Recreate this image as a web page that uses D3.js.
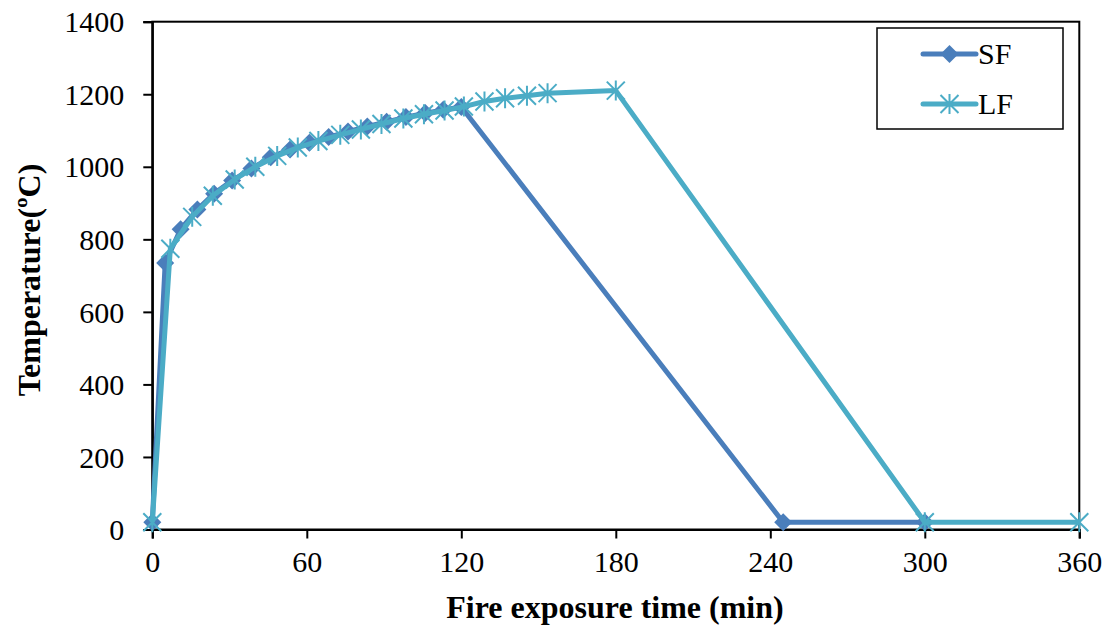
<!DOCTYPE html>
<html>
<head>
<meta charset="utf-8">
<script src="https://cdn.jsdelivr.net/npm/d3@7"></script>
<style>
  html, body { margin: 0; padding: 0; background: #fff; }
  svg { display: block; }
  text { font-family: "Liberation Serif", "Times New Roman", serif; fill: #000; }
</style>
</head>
<body>
<svg id="chart" width="1114" height="626"></svg>
<script>
// ---- data ----
const sfTime = [0, 5, 11, 17.5, 24, 31, 38.5, 46, 53.5, 61, 68.5, 76, 83.5, 91, 98.5, 106, 113, 120, 245, 300];
const sfTemp = [20, 735, 828, 882, 926, 962, 995, 1026, 1048, 1066, 1082, 1097, 1111, 1124, 1137, 1148, 1157, 1165, 20, 20];
const lfTime = [0, 7, 15.5, 23.5, 32, 40, 48.5, 56.5, 64.5, 73, 81, 89, 97.5, 105.5, 113.5, 121, 129, 137, 145.5, 153.5, 180, 300, 360];
const lfTemp = [20, 774, 862, 920, 965, 1000, 1030, 1053, 1071, 1088, 1103, 1118, 1133, 1145, 1155, 1166, 1180, 1189, 1196, 1203, 1210, 20, 20];
const seriesNames = ["SF", "LF"];
const xTicks = [0, 60, 120, 180, 240, 300, 360];
const yTicks = [0, 200, 400, 600, 800, 1000, 1200, 1400];
const xTitle = "Fire exposure time (min)";
const yTitle = "Temperature(ºC)";

// ---- layout ----
const svg = d3.select("#chart");
const L = 152.3, R = 1079.3, T = 21.7, B = 529.5;
const x = d3.scaleLinear().domain([0, 360]).range([L, R]);
const y = d3.scaleLinear().domain([0, 1400]).range([B, T]);
const colors = { SF: "#4a7ebb", LF: "#4bacc6" };

// frame (top and right)
svg.append("rect").attr("x", L).attr("y", T).attr("width", R - L).attr("height", B - T)
  .attr("fill", "none").attr("stroke", "#000").attr("stroke-width", 2);

// axes
const xAxis = svg.append("g").attr("transform", `translate(0,${B})`)
  .call(d3.axisBottom(x).tickValues(xTicks).tickSize(9).tickPadding(12).tickFormat(d3.format("d")));
const yAxis = svg.append("g").attr("transform", `translate(${L},0)`)
  .call(d3.axisLeft(y).tickValues(yTicks).tickSize(9).tickPadding(19).tickFormat(d3.format("d")));
[xAxis, yAxis].forEach(g => {
  g.select(".domain").attr("stroke", "#000").attr("stroke-width", 2.2);
  g.selectAll(".tick line").attr("stroke", "#000").attr("stroke-width", 2);
  g.selectAll(".tick text").attr("font-family", "Liberation Serif, Times New Roman, serif")
    .attr("font-size", 30).attr("fill", "#000");
});
yAxis.selectAll(".tick text").attr("dy", "0.34em");

// axis titles
svg.append("text").attr("x", 615).attr("y", 618).attr("text-anchor", "middle")
  .attr("font-size", 32).attr("font-weight", "bold").text(xTitle);
svg.append("text").attr("transform", `translate(40,280) rotate(-90)`).attr("text-anchor", "middle")
  .attr("font-size", 32).attr("font-weight", "bold").text(yTitle);

// marker shapes
function diamond(g, cx, cy, c) {
  g.append("path").attr("d", `M${cx},${cy - 9}L${cx + 9},${cy}L${cx},${cy + 9}L${cx - 9},${cy}Z`).attr("fill", c);
}
function star(g, cx, cy, c) {
  const s = 9;
  g.append("path")
    .attr("d", `M${cx - s},${cy - s}L${cx + s},${cy + s}M${cx - s},${cy + s}L${cx + s},${cy - s}M${cx},${cy - s - 1}L${cx},${cy + s + 1}`)
    .attr("stroke", c).attr("stroke-width", 2).attr("fill", "none");
}

const line = d3.line().x(d => x(d[0])).y(d => y(d[1]));
const sfData = sfTime.map((t, i) => [t, sfTemp[i]]);
const lfData = lfTime.map((t, i) => [t, lfTemp[i]]);

const gSF = svg.append("g");
gSF.append("path").datum(sfData).attr("d", line).attr("fill", "none")
  .attr("stroke", colors.SF).attr("stroke-width", 5).attr("stroke-linejoin", "round");
sfData.forEach(d => diamond(gSF, x(d[0]), y(d[1]), colors.SF));

const gLF = svg.append("g");
gLF.append("path").datum(lfData).attr("d", line).attr("fill", "none")
  .attr("stroke", colors.LF).attr("stroke-width", 5).attr("stroke-linejoin", "round");
lfData.forEach(d => star(gLF, x(d[0]), y(d[1]), colors.LF));

// legend
const lg = svg.append("g");
lg.append("rect").attr("x", 877).attr("y", 28).attr("width", 186).attr("height", 101)
  .attr("fill", "#fff").attr("stroke", "#000").attr("stroke-width", 1.5);
const legendRows = [{ name: seriesNames[0], yy: 54, mk: diamond }, { name: seriesNames[1], yy: 104, mk: star }];
legendRows.forEach(r => {
  const c = colors[r.name];
  lg.append("line").attr("x1", 923).attr("x2", 976).attr("y1", r.yy).attr("y2", r.yy)
    .attr("stroke", c).attr("stroke-width", 5).attr("stroke-linecap", "round");
  r.mk(lg, 949.5, r.yy, c);
  lg.append("text").attr("x", 978).attr("y", r.yy + 10).attr("font-size", 30).text(r.name);
});
</script>
</body>
</html>
